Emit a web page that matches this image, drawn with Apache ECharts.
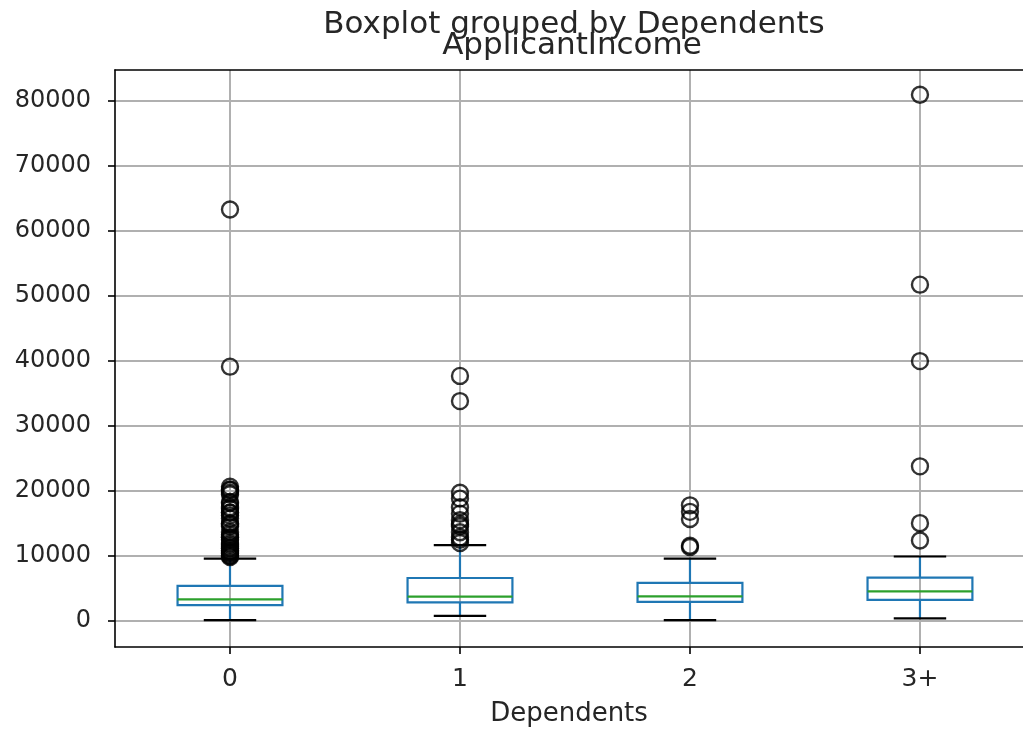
<!DOCTYPE html>
<html>
<head>
<meta charset="utf-8">
<script src="https://cdn.jsdelivr.net/npm/echarts@6/dist/echarts.min.js"></script>
<style>
  html, body { margin: 0; padding: 0; background: #fff; }
  #chart { width: 1023px; height: 732px; }
</style>
</head>
<body>
<div id="chart"></div>
<script>
// groups on the x axis
const categories = ['0', '1', '2', '3+'];
// box statistics per group
const whiskerLow = [150, 800, 150, 400];
const q1 = [2440, 2860, 2950, 3250];
const median = [3330, 3750, 3790, 4570];
const q3 = [5400, 6620, 5860, 6680];
const whiskerHigh = [9610, 11670, 9600, 9930];
// outliers per group
const outliers0 = [63337, 39147, 20667, 20233, 20166, 19730, 19484, 18333, 18165, 17500, 17263, 16692, 16667,
  16250, 15759, 15000, 14880, 14583, 13650, 13262, 12876, 12841, 12500, 12000, 11757, 11500, 11250, 11146,
  10833, 10750, 10513, 10408, 10139, 10000, 9833];
const outliers1 = [37719, 33846, 19730, 18840, 17500, 16525, 15500, 14880, 14583, 13650, 12876, 12500, 12000];
const outliers2 = [17800, 16800, 15700, 11600, 11400];
const outliers3 = [81000, 51763, 39999, 23803, 15064, 12400];
const yTicks = [0, 10000, 20000, 30000, 40000, 50000, 60000, 70000, 80000];

const outlierGroups = [outliers0, outliers1, outliers2, outliers3];
const positions = categories.map((c, i) => i + 1);

const boxData = categories.map((c, i) => [positions[i], whiskerLow[i], q1[i], median[i], q3[i], whiskerHigh[i]]);
const outlierData = [];
outlierGroups.forEach((g, i) => {
  g.forEach((v) => outlierData.push([positions[i], v]));
});

const textColor = '#262626';
const font = 'DejaVu Sans';
// 图在右边被裁掉一截：x 轴只显示到 4.448
const xMin = 0.5;
const xMax = 4.448;

const chart = echarts.init(document.getElementById('chart'), null, { renderer: 'canvas' });

//箱体、须线、中位线
const renderBox = (params, api) => {
  const x = api.value(0);
  const unit = api.size([1, 0])[0];
  const half = unit * 0.228;
  const capHalf = unit * 0.114;
  const pLow = api.coord([x, api.value(1)]);
  const pQ1 = api.coord([x, api.value(2)]);
  const pMed = api.coord([x, api.value(3)]);
  const pQ3 = api.coord([x, api.value(4)]);
  const pHigh = api.coord([x, api.value(5)]);
  const cx = pQ1[0];
  const blue = { stroke: '#1f77b4', lineWidth: 2.2 };
  const black = { stroke: '#000', lineWidth: 2.2 };
  return {
    type: 'group',
    children: [
      { type: 'line', shape: { x1: cx, y1: pQ1[1], x2: cx, y2: pLow[1] }, style: blue },
      { type: 'line', shape: { x1: cx, y1: pQ3[1], x2: cx, y2: pHigh[1] }, style: blue },
      { type: 'line', shape: { x1: cx - capHalf, y1: pLow[1], x2: cx + capHalf, y2: pLow[1] }, style: black },
      { type: 'line', shape: { x1: cx - capHalf, y1: pHigh[1], x2: cx + capHalf, y2: pHigh[1] }, style: black },
      { type: 'rect', shape: { x: cx - half, y: pQ3[1], width: half * 2, height: pQ1[1] - pQ3[1] }, style: { fill: 'none', stroke: '#1f77b4', lineWidth: 2.2 } },
      { type: 'line', shape: { x1: cx - half, y1: pMed[1], x2: cx + half, y2: pMed[1] }, style: { stroke: '#2ca02c', lineWidth: 2.2 } },
    ],
  };
};

chart.setOption({
  animation: false,
  backgroundColor: '#fff',
  grid: { left: 115, top: 70, right: 0, height: 577 },
  graphic: [
    {
      type: 'text', x: 574, y: 25,
      style: { text: 'Boxplot grouped by Dependents', font: '31px "DejaVu Sans"', fill: textColor, textAlign: 'center', textVerticalAlign: 'middle' },
    },
    {
      type: 'text', x: 572, y: 46,
      style: { text: 'ApplicantIncome', font: '31px "DejaVu Sans"', fill: textColor, textAlign: 'center', textVerticalAlign: 'middle' },
    },
  ],
  xAxis: [
    {
      type: 'value',
      min: xMin,
      max: xMax,
      name: 'Dependents',
      nameLocation: 'middle',
      nameGap: 54,
      nameTextStyle: { fontFamily: font, fontSize: 26, color: textColor },
      axisLine: { show: true, onZero: false, lineStyle: { color: '#000', width: 1.6 } },
      axisTick: { show: true, length: 7, customValues: positions, lineStyle: { color: '#000', width: 1.6 } },
      axisLabel: {
        customValues: positions,
        margin: 20,
        fontFamily: font, fontSize: 25, color: textColor,
        formatter: (v) => categories[Math.round(v) - 1],
      },
      splitLine: { show: true, lineStyle: { color: '#b0b0b0', width: 2 } },
    },
    {
      // 上边框
      type: 'value',
      position: 'top',
      min: xMin,
      max: xMax,
      axisLine: { show: true, onZero: false, lineStyle: { color: '#000', width: 1.6 } },
      axisTick: { show: false },
      axisLabel: { show: false },
      splitLine: { show: false },
    },
  ],
  yAxis: {
    type: 'value',
    min: -4000,
    max: 84800,
    axisLine: { show: true, onZero: false, lineStyle: { color: '#000', width: 1.6 } },
    axisTick: { show: true, length: 7, customValues: yTicks, lineStyle: { color: '#000', width: 1.6 } },
    axisLabel: {
      customValues: yTicks, margin: 24, fontFamily: font, fontSize: 24, color: textColor,
      formatter: (v) => String(v),
    },
    splitLine: { show: true, lineStyle: { color: '#b0b0b0', width: 2 } },
  },
  series: [
    {
      type: 'custom',
      renderItem: renderBox,
      data: boxData,
      encode: { x: 0, y: [1, 2, 3, 4, 5] },
      z: 3,
    },
    {
      type: 'scatter',
      data: outlierData,
      symbol: 'circle',
      symbolSize: 16,
      itemStyle: { color: 'rgba(0,0,0,0)', borderColor: '#000', borderWidth: 2.4 },
      z: 4,
    },
  ],
});
</script>
</body>
</html>
